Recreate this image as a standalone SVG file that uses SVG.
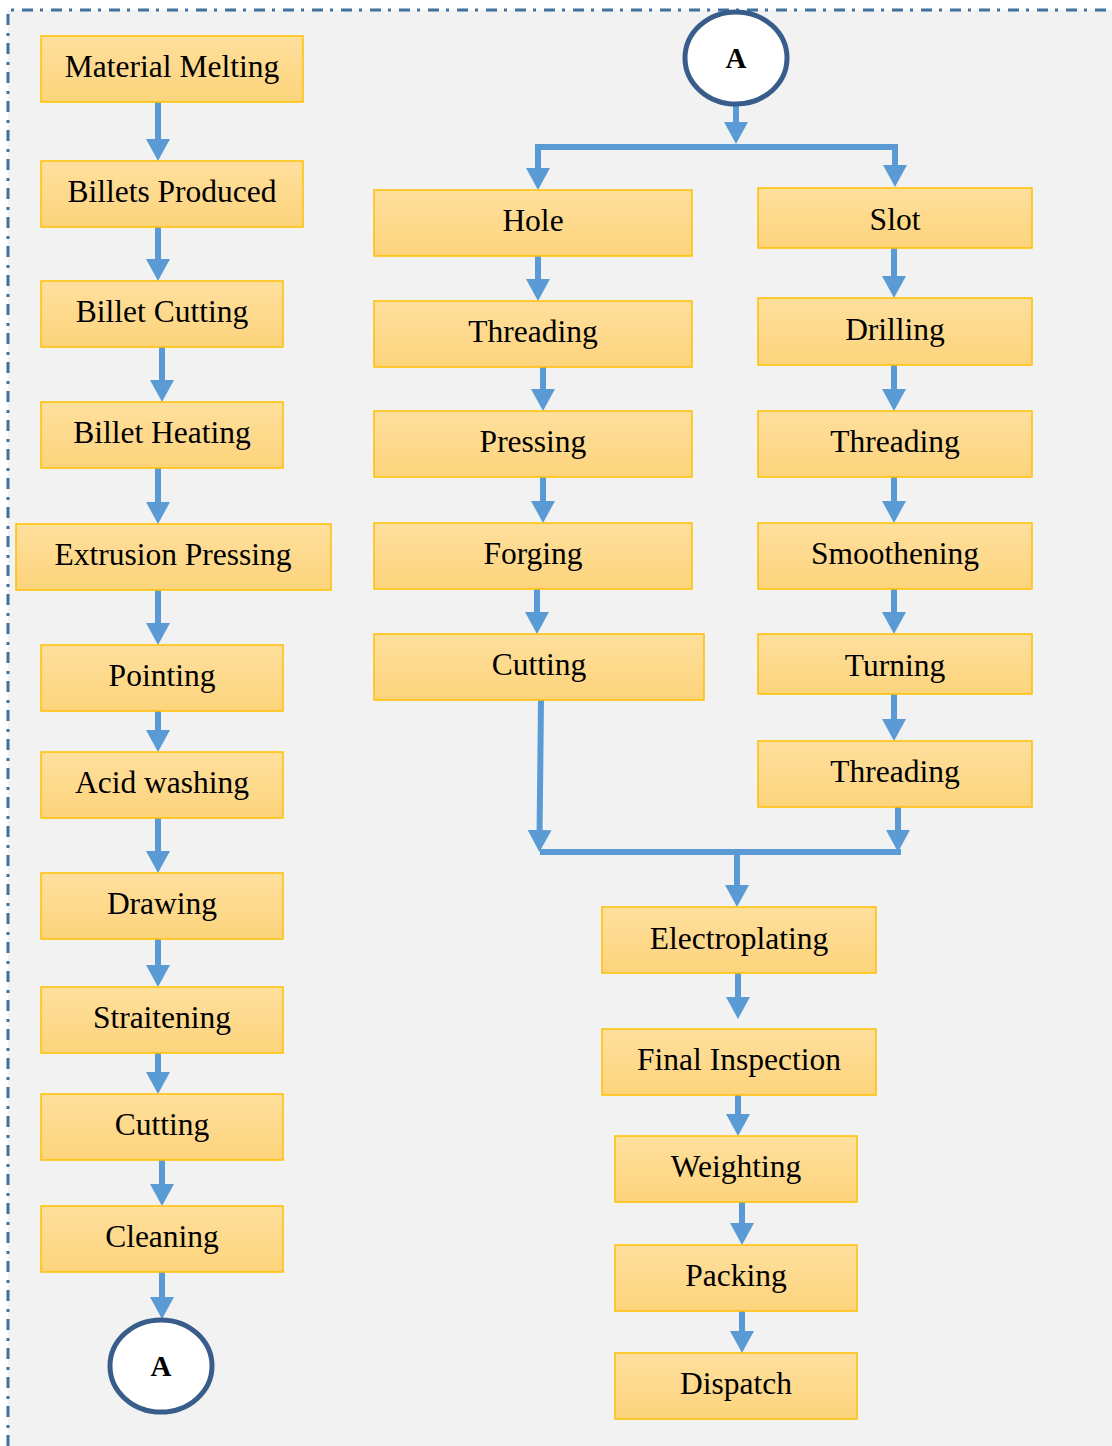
<svg xmlns="http://www.w3.org/2000/svg" width="1112" height="1446" viewBox="0 0 1112 1446">
<defs>
<linearGradient id="g" x1="0" y1="0" x2="0" y2="1">
<stop offset="0" stop-color="#fedf9d"/>
<stop offset="1" stop-color="#fdd47c"/>
</linearGradient>
<marker id="ah" viewBox="0 0 22 24" markerWidth="22" markerHeight="24" refX="10" refY="12" orient="auto" markerUnits="userSpaceOnUse">
<path d="M0,0 L22,12 L0,24 z" fill="#5b9bd5"/>
</marker>
<style>
.box rect{fill:url(#g);stroke:#ffc000;stroke-width:1.5}
.box text{font-family:"Liberation Serif","Times New Roman",serif;font-size:31.5px;fill:#000;text-anchor:middle}
.circ ellipse{fill:#fff;stroke:#385d8a;stroke-width:5}
.circ text{font-family:"Liberation Serif","Times New Roman",serif;font-size:29px;font-weight:bold;fill:#000;text-anchor:middle}
.conn path{fill:none;stroke:#5b9bd5;stroke-width:6}
.conn path.a{marker-end:url(#ah)}
</style>
</defs>
<rect x="8" y="10" width="1104" height="1436" fill="#f2f2f2"/>
<path d="M8,1446 V10 H1112" fill="none" stroke="#41719c" stroke-width="3" stroke-dasharray="11 7 3 8"/>

<g class="conn">
<path class="a" d="M158,102 V149"/>
<path class="a" d="M158,227 V269"/>
<path class="a" d="M162,347 V390"/>
<path class="a" d="M158,468 V512"/>
<path class="a" d="M158,590 V633"/>
<path class="a" d="M158,711 V740"/>
<path class="a" d="M158,818 V861"/>
<path class="a" d="M158,939 V975"/>
<path class="a" d="M158,1053 V1082"/>
<path class="a" d="M162,1160 V1194"/>
<path class="a" d="M162,1272 V1307"/>

<path class="a" d="M736,105 V132"/>
<path d="M538,147 H895"/>
<path class="a" d="M538,144 V178"/>
<path class="a" d="M895,144 V175"/>

<path class="a" d="M538,256 V289"/>
<path class="a" d="M543,367 V399"/>
<path class="a" d="M543,477 V511"/>
<path class="a" d="M537,589 V622"/>

<path class="a" d="M894,248 V286"/>
<path class="a" d="M894,365 V399"/>
<path class="a" d="M894,477 V511"/>
<path class="a" d="M894,589 V622"/>
<path class="a" d="M894,694 V729"/>

<path class="a" d="M541,700 L539.5,840"/>
<path class="a" d="M898,807 V840"/>
<path d="M540,852 H901"/>
<path class="a" d="M737,852 V895"/>

<path class="a" d="M738,973 V1007"/>
<path class="a" d="M738,1095 V1124"/>
<path class="a" d="M742,1202 V1233"/>
<path class="a" d="M742,1311 V1341"/>
</g>

<g id="material-melting" class="box"><rect x="41" y="36" width="262" height="66"/><text x="172" y="77">Material Melting</text></g>
<g id="billets-produced" class="box"><rect x="41" y="161" width="262" height="66"/><text x="172" y="202">Billets Produced</text></g>
<g id="billet-cutting" class="box"><rect x="41" y="281" width="242" height="66"/><text x="162" y="322">Billet Cutting</text></g>
<g id="billet-heating" class="box"><rect x="41" y="402" width="242" height="66"/><text x="162" y="443">Billet Heating</text></g>
<g id="extrusion-pressing" class="box"><rect x="16" y="524" width="315" height="66"/><text x="173" y="565">Extrusion Pressing</text></g>
<g id="pointing" class="box"><rect x="41" y="645" width="242" height="66"/><text x="162" y="686">Pointing</text></g>
<g id="acid-washing" class="box"><rect x="41" y="752" width="242" height="66"/><text x="162" y="793">Acid washing</text></g>
<g id="drawing" class="box"><rect x="41" y="873" width="242" height="66"/><text x="162" y="914">Drawing</text></g>
<g id="straitening" class="box"><rect x="41" y="987" width="242" height="66"/><text x="162" y="1028">Straitening</text></g>
<g id="cutting-1" class="box"><rect x="41" y="1094" width="242" height="66"/><text x="162" y="1135">Cutting</text></g>
<g id="cleaning" class="box"><rect x="41" y="1206" width="242" height="66"/><text x="162" y="1247">Cleaning</text></g>
<g id="connector-a-out" class="circ"><ellipse cx="161" cy="1366" rx="51" ry="46"/><text x="161" y="1376">A</text></g>

<g id="connector-a-in" class="circ"><ellipse cx="736" cy="58" rx="51" ry="46"/><text x="736" y="68">A</text></g>

<g id="hole" class="box"><rect x="374" y="190" width="318" height="66"/><text x="533" y="231">Hole</text></g>
<g id="threading-1" class="box"><rect x="374" y="301" width="318" height="66"/><text x="533" y="342">Threading</text></g>
<g id="pressing" class="box"><rect x="374" y="411" width="318" height="66"/><text x="533" y="452">Pressing</text></g>
<g id="forging" class="box"><rect x="374" y="523" width="318" height="66"/><text x="533" y="564">Forging</text></g>
<g id="cutting-2" class="box"><rect x="374" y="634" width="330" height="66"/><text x="539" y="675">Cutting</text></g>

<g id="slot" class="box"><rect x="758" y="188" width="274" height="60"/><text x="895" y="230">Slot</text></g>
<g id="drilling" class="box"><rect x="758" y="298" width="274" height="67"/><text x="895" y="340">Drilling</text></g>
<g id="threading-2" class="box"><rect x="758" y="411" width="274" height="66"/><text x="895" y="452">Threading</text></g>
<g id="smoothening" class="box"><rect x="758" y="523" width="274" height="66"/><text x="895" y="564">Smoothening</text></g>
<g id="turning" class="box"><rect x="758" y="634" width="274" height="60"/><text x="895" y="676">Turning</text></g>
<g id="threading-3" class="box"><rect x="758" y="741" width="274" height="66"/><text x="895" y="782">Threading</text></g>

<g id="electroplating" class="box"><rect x="602" y="907" width="274" height="66"/><text x="739" y="949">Electroplating</text></g>
<g id="final-inspection" class="box"><rect x="602" y="1029" width="274" height="66"/><text x="739" y="1070">Final Inspection</text></g>
<g id="weighting" class="box"><rect x="615" y="1136" width="242" height="66"/><text x="736" y="1177">Weighting</text></g>
<g id="packing" class="box"><rect x="615" y="1245" width="242" height="66"/><text x="736" y="1286">Packing</text></g>
<g id="dispatch" class="box"><rect x="615" y="1353" width="242" height="66"/><text x="736" y="1394">Dispatch</text></g>
</svg>
